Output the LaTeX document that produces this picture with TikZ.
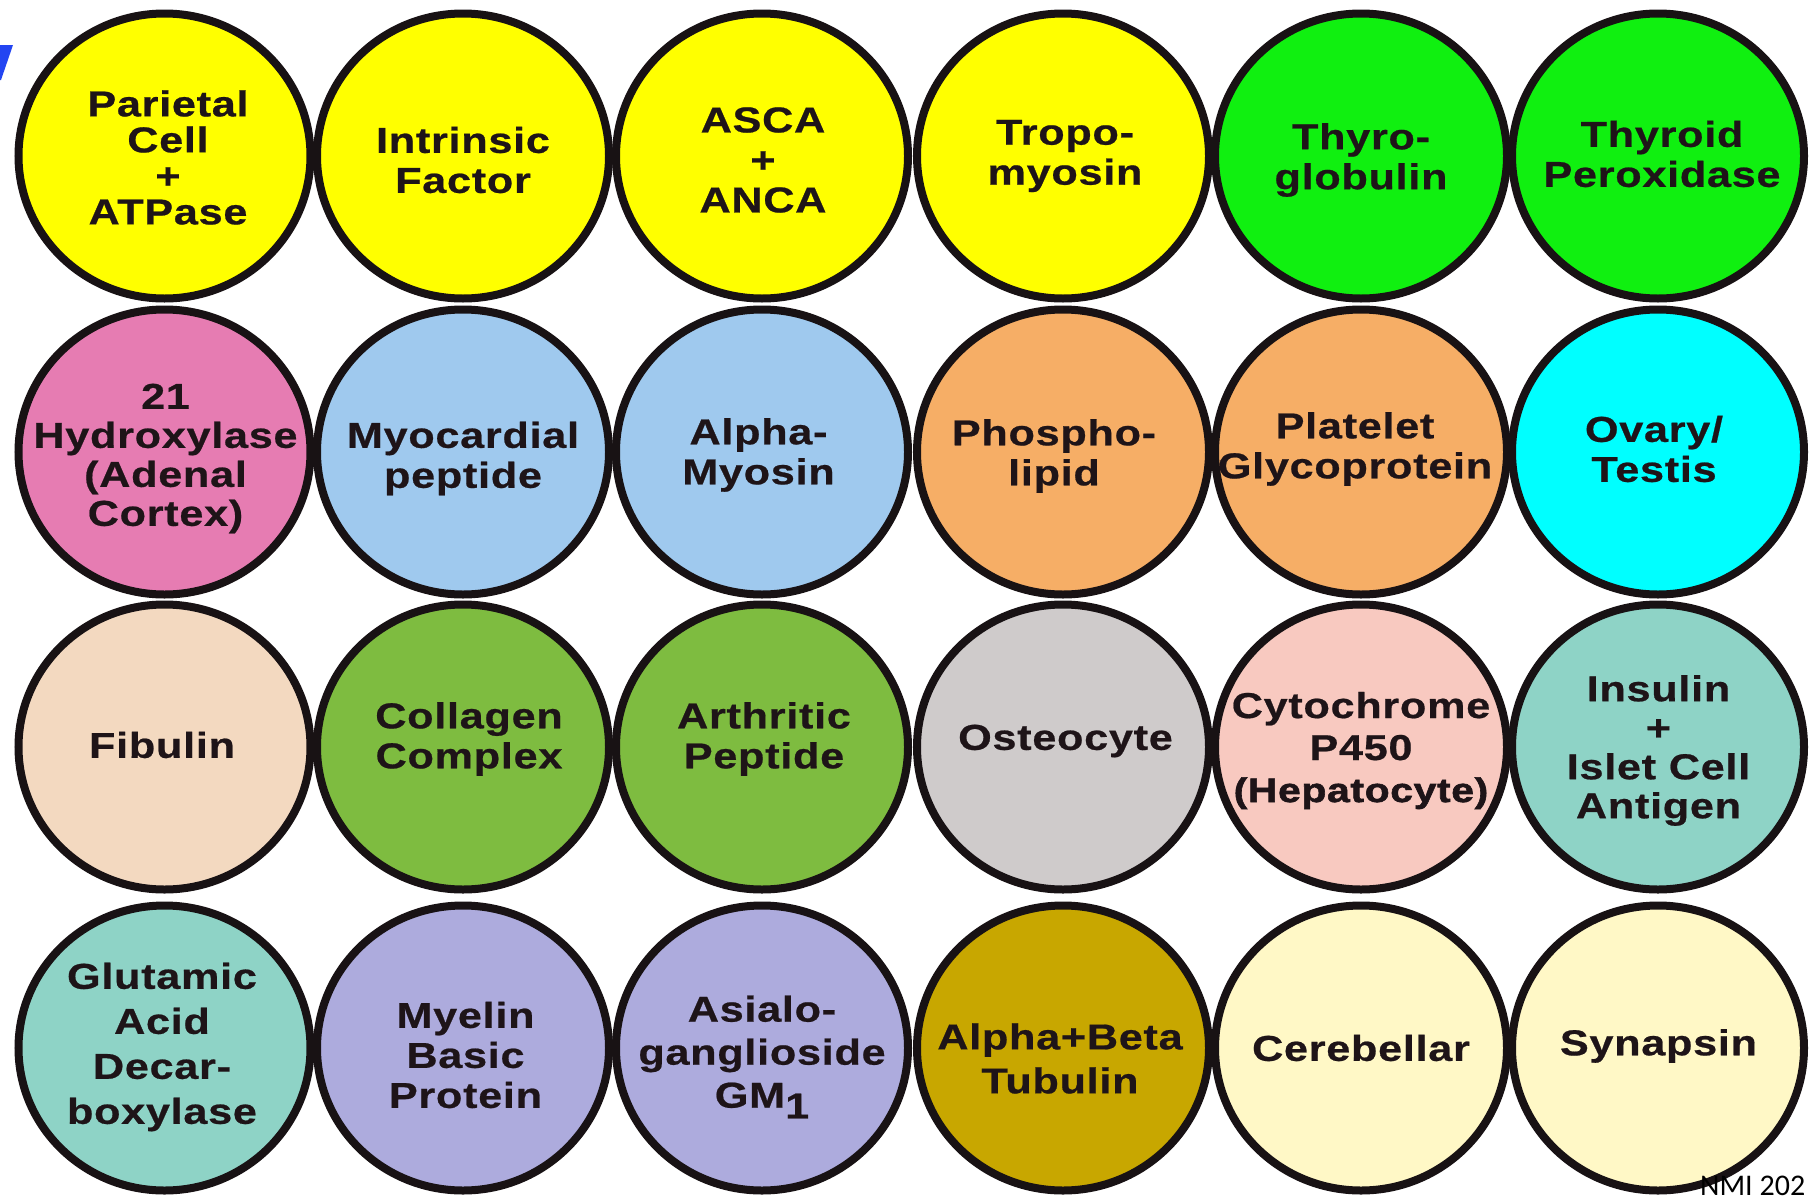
\documentclass[tikz,border=0pt]{standalone}
\usepackage{fontspec}
\setmainfont{Liberation Sans}[FakeStretch=1.2,LetterSpace=2,BoldFeatures={FakeBold=0.6}]
\newfontfamily\semib{Liberation Sans}[FakeStretch=1.2,LetterSpace=2,FakeBold=1.8]
\newfontfamily\nmifont{Carlito}
\usetikzlibrary{shapes.geometric}
\definecolor{cYel}{HTML}{FFFF00}
\definecolor{cGrn}{HTML}{10F010}
\definecolor{cPink}{HTML}{E67CB2}
\definecolor{cBlue}{HTML}{9FC9EE}
\definecolor{cOra}{HTML}{F6AE66}
\definecolor{cCyan}{HTML}{00FFFF}
\definecolor{cPeach}{HTML}{F3D9C0}
\definecolor{cLeaf}{HTML}{7EBC40}
\definecolor{cGray}{HTML}{CFCBCB}
\definecolor{cRose}{HTML}{F8C9C0}
\definecolor{cTeal}{HTML}{8ED3C6}
\definecolor{cLav}{HTML}{ADABDD}
\definecolor{cGold}{HTML}{C8A700}
\definecolor{cCream}{HTML}{FFF8C6}
\definecolor{discline}{HTML}{181214}
\definecolor{txt}{HTML}{1E1418}
\definecolor{markblue}{HTML}{2345F2}
\begin{document}
\begin{tikzpicture}[x=1pt,y=-1pt,
  disc/.style={ellipse, draw=discline, line width=8pt, minimum width=292pt, minimum height=285pt, inner sep=0pt},
  lbl/.style={align=center, text=txt, font=\bfseries\fontsize{36}{40}\selectfont, inner sep=0pt}]
\useasboundingbox (0,0) rectangle (1816,1197);
\fill[white] (0,0) rectangle (1816,1197);
% blue fragment top-left
\fill[markblue] (0,45) -- (13,45) -- (1,80) -- (0,80) -- cycle;
% row 1
\node[disc, fill=cYel] (c11) at (164.5,156) {};
\node[disc, fill=cYel] (c12) at (463,156) {};
\node[disc, fill=cYel] (c13) at (762,156) {};
\node[disc, fill=cYel] (c14) at (1063,156) {};
\node[disc, fill=cGrn] (c15) at (1361,156) {};
\node[disc, fill=cGrn] (c16) at (1658,156) {};
% row 2
\node[disc, fill=cPink] (c21) at (164.5,452) {};
\node[disc, fill=cBlue] (c22) at (463,452) {};
\node[disc, fill=cBlue] (c23) at (762,452) {};
\node[disc, fill=cOra] (c24) at (1063,452) {};
\node[disc, fill=cOra] (c25) at (1361,452) {};
\node[disc, fill=cCyan] (c26) at (1658,452) {};
% row 3
\node[disc, fill=cPeach] (c31) at (164.5,747) {};
\node[disc, fill=cLeaf] (c32) at (463,747) {};
\node[disc, fill=cLeaf] (c33) at (762,747) {};
\node[disc, fill=cGray] (c34) at (1063,747) {};
\node[disc, fill=cRose] (c35) at (1361,747) {};
\node[disc, fill=cTeal] (c36) at (1658,747) {};
% row 4
\node[disc, fill=cTeal] (c41) at (164.5,1048) {};
\node[disc, fill=cLav] (c42) at (463,1048) {};
\node[disc, fill=cLav] (c43) at (762,1048) {};
\node[disc, fill=cGold] (c44) at (1063,1048) {};
\node[disc, fill=cCream] (c45) at (1361,1048) {};
\node[disc, fill=cCream] (c46) at (1658,1048) {};
% labels row 1
\node[lbl, font=\bfseries\fontsize{36}{36}\selectfont] (t11) at (168,157.5) {Parietal\\Cell\\+\\ATPase};
\node[lbl] (t12) at (463,160) {Intrinsic\\Factor};
\node[lbl] (t13) at (763,160) {ASCA\\+\\ANCA};
\node[lbl] (t14) at (1065,156) {Tropo-\\myosin};
\node[lbl] (t15) at (1361,160) {Thyro-\\globulin};
\node[lbl] (t16) at (1662,154) {Thyroid\\Peroxidase};
% labels row 2
\node[lbl, font=\bfseries\fontsize{36}{39}\selectfont] (t21) at (165.5,458.5) {21\\Hydroxylase\\(Adenal\\Cortex)};
\node[lbl] (t22) at (463,458.5) {Myocardial\\peptide};
\node[lbl] (t23) at (758.5,455) {Alpha-\\Myosin};
\node[lbl] (t24) at (1054,456) {Phospho-\\lipid};
\node[lbl] (t25) at (1355,449) {Platelet\\Glycoprotein};
\node[lbl] (t26) at (1654,449) {Ovary/\\Testis};
% labels row 3
\node[lbl] (t31) at (162,745) {Fibulin};
\node[lbl] (t32) at (469,739) {Collagen\\Complex};
\node[lbl] (t33) at (764,739) {Arthritic\\Peptide};
\node[lbl] (t34) at (1065.5,741) {Osteocyte};
\node[lbl, font=\bfseries\fontsize{36}{42}\selectfont] (t35) at (1361,750.5) {Cytochrome\\P450\\{\semib\fontsize{34}{42}\selectfont(Hepatocyte)}};
\node[lbl, font=\bfseries\fontsize{36}{39}\selectfont] (t36) at (1658.5,750.5) {Insulin\\+\\Islet Cell\\Antigen};
% labels row 4
\node[lbl, font=\bfseries\fontsize{36}{45}\selectfont] (t41) at (162,1047) {Glutamic\\Acid\\Decar-\\boxylase};
\node[lbl] (t42) at (465.5,1055) {Myelin\\Basic\\Protein};
\node[lbl, font=\bfseries\fontsize{36}{43}\selectfont] (t43) at (762,1057) {Asialo-\\ganglioside\\GM\raisebox{-0.3em}{1}};
\node[lbl, font=\bfseries\fontsize{36}{44}\selectfont] (t44) at (1060,1058.5) {Alpha+Beta\\Tubulin};
\node[lbl] (t45) at (1361,1048) {Cerebellar};
\node[lbl] (t46) at (1658.5,1046) {Synapsin};
% footer
\node[anchor=base west, inner sep=0pt, text=black, font=\nmifont\fontsize{30}{30}\selectfont] (nmi) at (1700,1195) {NMI 202};
\end{tikzpicture}
\end{document}
